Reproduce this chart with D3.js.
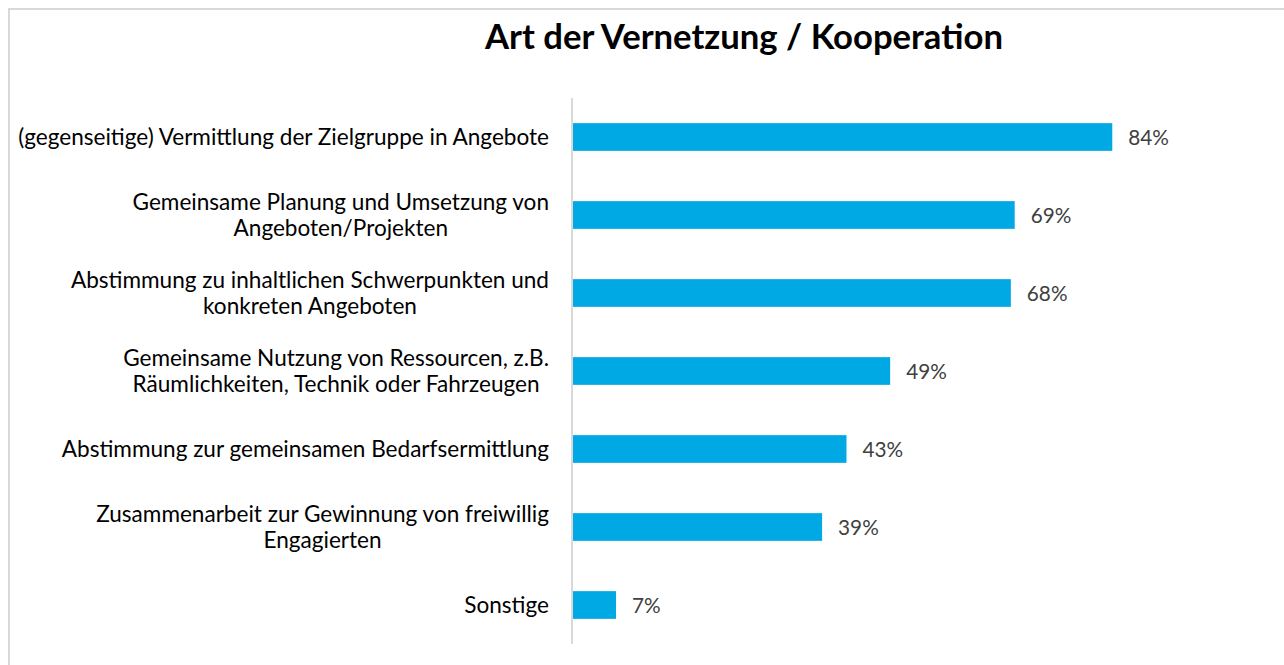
<!DOCTYPE html>
<html>
<head>
<meta charset="utf-8">
<script src="https://cdn.jsdelivr.net/npm/d3@7"></script>
<style>
  html, body { margin: 0; padding: 0; background: #fff; }
  svg { display: block; }
</style>
</head>
<body>
<svg id="chart" width="1284" height="665"></svg>
<script>
const title = "Art der Vernetzung / Kooperation";
const categories = [
  ["(gegenseitige) Vermittlung der Zielgruppe in Angebote"],
  ["Gemeinsame Planung und Umsetzung von", "Angeboten/Projekten"],
  ["Abstimmung zu inhaltlichen Schwerpunkten und", "konkreten Angeboten"],
  ["Gemeinsame Nutzung von Ressourcen, z.B.", "Räumlichkeiten, Technik oder Fahrzeugen"],
  ["Abstimmung zur gemeinsamen Bedarfsermittlung"],
  ["Zusammenarbeit zur Gewinnung von freiwillig", "Engagierten"],
  ["Sonstige"]
];
const values = [84.0, 68.8, 68.2, 49.4, 42.6, 38.8, 6.7];

const svg = d3.select("#chart");
const W = 1284, H = 665;

// frame (top and left edges visible)
svg.append("line").attr("x1", 9).attr("x2", W + 10).attr("y1", 9).attr("y2", 9)
  .attr("stroke", "#d9d9d9").attr("stroke-width", 2);
svg.append("line").attr("x1", 9).attr("x2", 9).attr("y1", 8).attr("y2", H + 10)
  .attr("stroke", "#d9d9d9").attr("stroke-width", 2);

const ids = d3.range(categories.length);
const y = d3.scaleBand().domain(ids).range([98, 644]).paddingInner(0.645).paddingOuter(0.3225);
const x = d3.scaleLinear().domain([0, 100]).range([573, 1215]);

const FONT = "Lato, 'Open Sans', sans-serif";

function measure(text, weight, size) {
  const t = svg.append("text").attr("font-family", FONT).attr("font-weight", weight)
    .attr("font-size", size).text(text);
  const w = t.node().getComputedTextLength();
  t.remove();
  return w;
}
function fitSize(text, weight, targetWidth, base) {
  return base * targetWidth / measure(text, weight, base);
}

// title
const titleSize = fitSize(title, "bold", 518, 36);
svg.append("text")
  .attr("x", 744).attr("y", 49)
  .attr("text-anchor", "middle")
  .attr("font-family", FONT).attr("font-weight", "bold")
  .attr("font-size", titleSize).attr("fill", "#000")
  .text(title);

// bars
svg.append("g").selectAll("rect").data(values).join("rect")
  .attr("x", x(0))
  .attr("y", (d, i) => y(i))
  .attr("width", d => x(d) - x(0))
  .attr("height", y.bandwidth())
  .attr("fill", "#00A8E4");

// axis line
svg.append("line").attr("x1", 572).attr("x2", 572).attr("y1", 98).attr("y2", 644)
  .attr("stroke", "#d9d9d9").attr("stroke-width", 2);

// category labels (block right-aligned, lines centred within block)
const labelSize = fitSize(categories[0][0], "normal", 531, 20);
const lineH = 26;
const capHalf = labelSize * 0.72 / 2;
const labelRight = 549;
const lg = svg.append("g");
categories.forEach((lines, i) => {
  const cy = y(i) + y.bandwidth() / 2;
  const n = lines.length;
  const blockW = d3.max(lines, ln => measure(ln, "normal", labelSize));
  const cx = labelRight - blockW / 2;
  lines.forEach((ln, j) => {
    lg.append("text")
      .attr("x", cx)
      .attr("y", cy + capHalf + (j - (n - 1) / 2) * lineH)
      .attr("text-anchor", "middle")
      .attr("font-family", FONT)
      .attr("font-size", labelSize)
      .attr("fill", "#000")
      .text(ln);
  });
});

// value labels
const fmt = d => Math.round(d) + "%";
const valSize = fitSize("49%", "normal", 40.7, 20);
svg.append("g").selectAll("text").data(values).join("text")
  .attr("x", d => x(d) + 16)
  .attr("y", (d, i) => y(i) + y.bandwidth() / 2 + valSize * 0.72 / 2 + 1)
  .attr("font-family", FONT)
  .attr("font-size", valSize)
  .attr("fill", "#404040")
  .text(fmt);
</script>
</body>
</html>
